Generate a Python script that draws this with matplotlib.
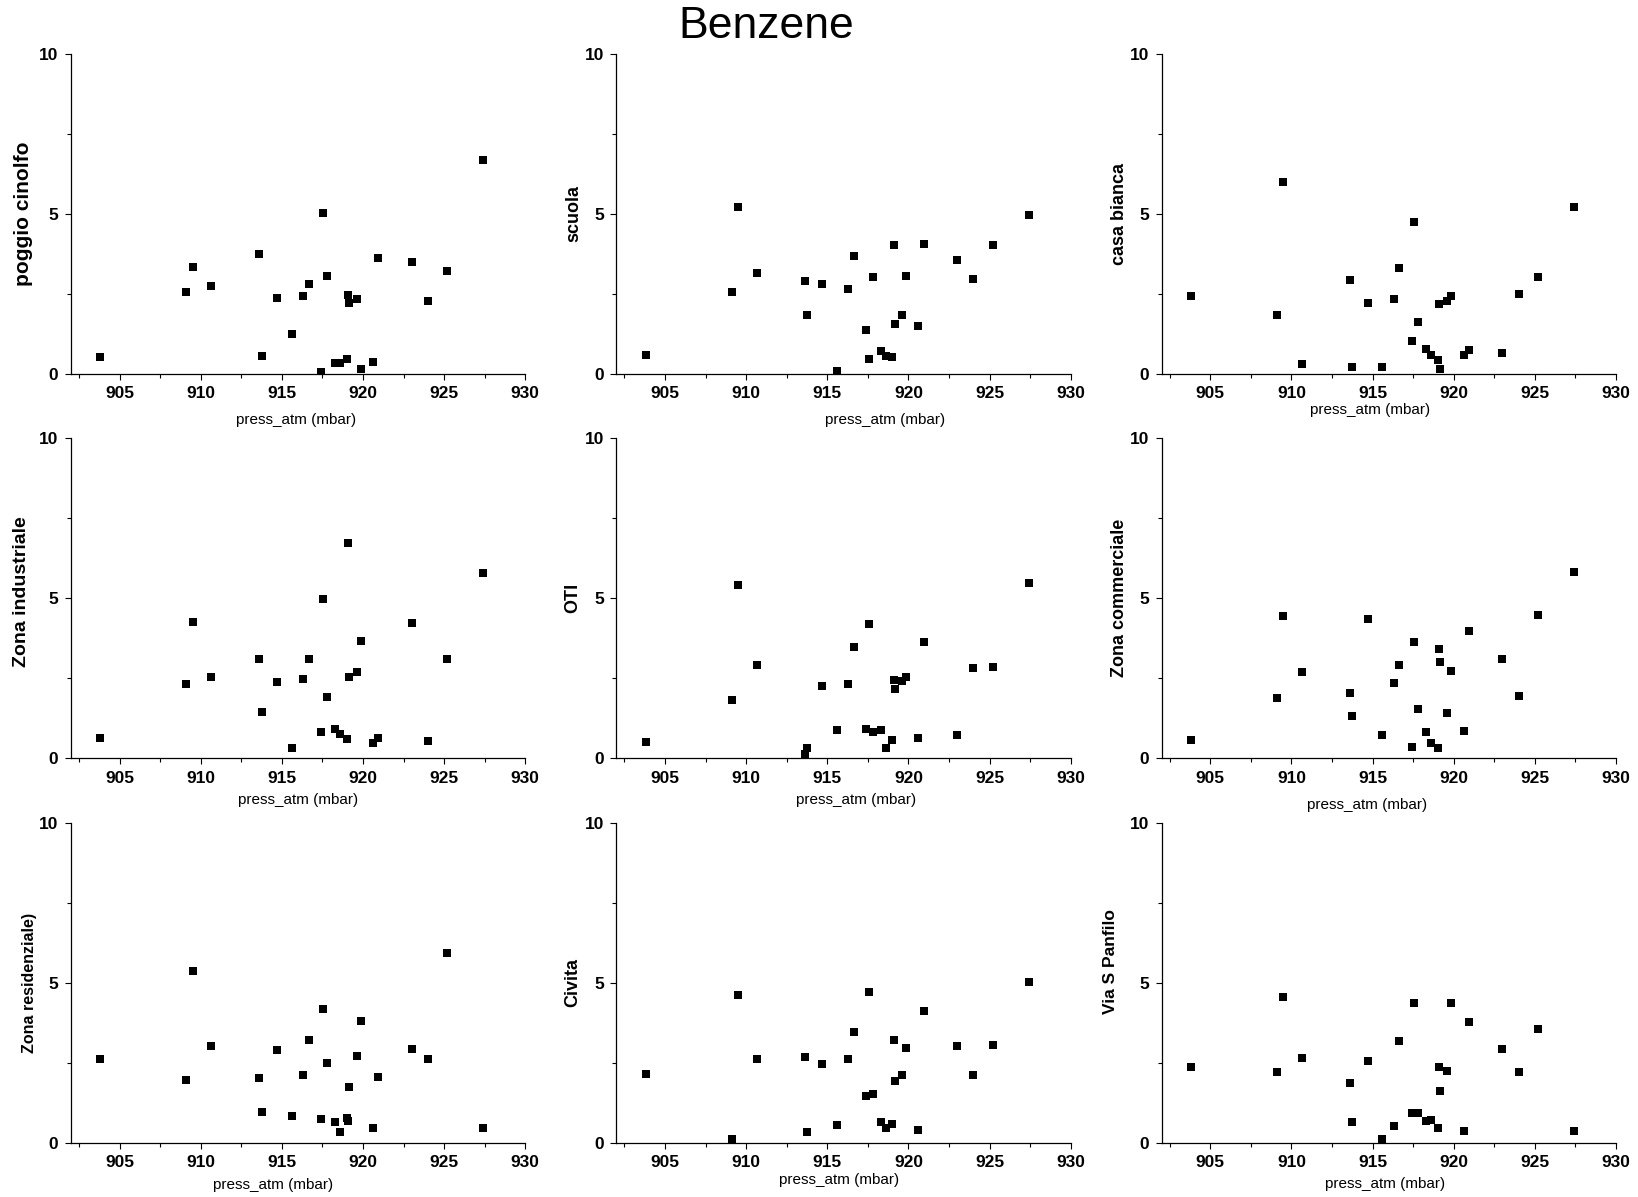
import numpy as np
import matplotlib
matplotlib.use('Agg')
import matplotlib.pyplot as plt
from matplotlib.ticker import MultipleLocator

plt.rcParams['font.family'] = ['Liberation Sans', 'DejaVu Sans']

# pressure (mbar), same days for every station
press = [903.8, 909.1, 909.5, 910.65, 913.6, 913.75, 914.7, 915.6, 916.3, 916.65,
         917.4, 917.55, 917.8, 918.3, 918.6, 919.0, 919.1, 919.15, 919.6, 919.85,
         920.6, 920.95, 923.0, 924.0, 925.2, 927.4]

# benzene concentration per station
poggio_cinolfo = [0.52, 2.55, 3.33, 2.74, 3.74, 0.55, 2.36, 1.24, 2.43, 2.80,
                  0.06, 5.02, 3.05, 0.33, 0.33, 0.46, 2.46, 2.21, 2.33, 0.15,
                  0.36, 3.61, 3.49, 2.27, 3.21, 6.68]
scuola = [0.58, 2.55, 5.21, 3.15, 2.90, 1.83, 2.80, 0.08, 2.65, 3.68,
          1.36, 0.46, 3.02, 0.71, 0.55, 0.52, 4.02, 1.55, 1.83, 3.05,
          1.49, 4.05, 3.55, 2.96, 4.02, 4.96]
casa_bianca = [2.43, 1.83, 5.99, 0.30, 2.93, 0.21, 2.21, 0.21, 2.33, 3.30,
               1.02, 4.74, 1.61, 0.77, 0.58, 0.43, 2.18, 0.15, 2.27, 2.43,
               0.58, 0.74, 0.65, 2.49, 3.02, 5.21]
zona_industriale = [0.65, 2.31, 4.25, 2.53, 3.09, 1.44, 2.38, 0.31, 2.47, 3.09,
                    0.81, 4.97, 1.91, 0.91, 0.75, 0.59, 6.72, 2.53, 2.69, 3.66,
                    0.47, 0.65, 4.22, 0.53, 3.09, 5.78]
oti = [0.50, 1.81, 5.41, 2.91, 0.12, 0.31, 2.25, 0.88, 2.31, 3.47,
       0.91, 4.19, 0.81, 0.88, 0.31, 0.56, 2.44, 2.16, 2.41, 2.53,
       0.63, 3.63, 0.72, 2.83, 2.86, 5.47]
zona_commerciale = [0.56, 1.90, 4.46, 2.69, 2.03, 1.31, 4.36, 0.72, 2.36, 2.91,
                    0.34, 3.63, 1.53, 0.81, 0.47, 0.31, 3.41, 3.00, 1.41, 2.72,
                    0.84, 3.97, 3.09, 1.94, 4.49, 5.81]
zona_residenziale = [2.60, 1.95, 5.35, 3.01, 2.02, 0.95, 2.89, 0.82, 2.10, 3.20,
                     0.73, 4.17, 2.48, 0.64, 0.32, 0.76, 0.67, 1.73, 2.70, 3.79,
                     0.45, 2.04, 2.92, 2.60, 5.92, 0.45]
civita = [2.14, 0.10, 4.60, 2.60, 2.67, 0.32, 2.45, 0.54, 2.60, 3.45,
          1.45, 4.70, 1.51, 0.64, 0.45, 0.57, 3.20, 1.92, 2.10, 2.95,
          0.39, 4.10, 3.01, 2.10, 3.04, 5.01]
via_s_panfilo = [2.35, 2.20, 4.54, 2.64, 1.88, 0.64, 2.55, 0.10, 0.51, 3.17,
                 0.92, 4.35, 0.92, 0.67, 0.70, 0.45, 2.38, 1.63, 2.23, 4.37,
                 0.35, 3.78, 2.92, 2.20, 3.55, 0.35]

stations = ['poggio cinolfo', 'scuola', 'casa bianca',
            'Zona industriale', 'OTI', 'Zona commerciale',
            'Zona residenziale)', 'Civita', 'Via S Panfilo']
series = [poggio_cinolfo, scuola, casa_bianca,
          zona_industriale, oti, zona_commerciale,
          zona_residenziale, civita, via_s_panfilo]

# label tweaks per panel: (ylabel size, ylabel x, ylabel y, xlabel x, xlabel y)
label_pos = [(15, -0.104, 0.5, 0.496, -0.144),
             (13, -0.093, 0.5, 0.592, -0.144),
             (13, -0.092, 0.5, 0.458, -0.112),
             (14, -0.108, 0.52, 0.50, -0.13),
             (13, -0.095, 0.5, 0.528, -0.130),
             (13, -0.092, 0.5, 0.453, -0.146),
             (11.5, -0.092, 0.5, 0.445, -0.132),
             (13, -0.095, 0.5, 0.489, -0.117),
             (12.5, -0.112, 0.565, 0.492, -0.128)]

fig = plt.figure(figsize=(16.38, 11.97), dpi=100)

lefts = [0.0433, 0.3763, 0.7092]
bottoms = [0.6876, 0.3665, 0.0454]
w = 0.2774
h = 0.2673

for i in range(9):
    r = i // 3
    c = i % 3
    ax = fig.add_axes([lefts[c], bottoms[r], w, h])
    ax.scatter(press, series[i], marker='s', s=36, color='black', linewidths=0)
    ax.set_xlim(902, 930)
    ax.set_ylim(0, 10)
    ax.xaxis.set_major_locator(MultipleLocator(5))
    ax.xaxis.set_minor_locator(MultipleLocator(2.5))
    ax.yaxis.set_major_locator(MultipleLocator(5))
    ax.yaxis.set_minor_locator(MultipleLocator(2.5))
    ax.spines['top'].set_visible(False)
    ax.spines['right'].set_visible(False)
    ax.spines['left'].set_linewidth(0.9)
    ax.spines['bottom'].set_linewidth(0.9)
    ax.tick_params(which='major', direction='out', length=4, width=0.8,
                   labelsize=12.5, pad=5)
    ax.tick_params(which='minor', direction='out', length=3, width=0.8)
    for lab in ax.get_xticklabels() + ax.get_yticklabels():
        lab.set_fontweight('bold')

    fs, ylx, yly, xlx, xly = label_pos[i]
    ax.set_ylabel(stations[i], fontsize=fs, fontweight='bold')
    ax.yaxis.set_label_coords(ylx, yly)
    ax.yaxis.label.set_verticalalignment('center')
    ax.set_xlabel('press_atm (mbar)', fontsize=11)
    ax.xaxis.set_label_coords(xlx, xly)
    ax.xaxis.label.set_verticalalignment('center')

fig.text(0.468, 0.978, 'Benzene', fontsize=32, ha='center', va='center')

fig.savefig('out.png', dpi=100)
